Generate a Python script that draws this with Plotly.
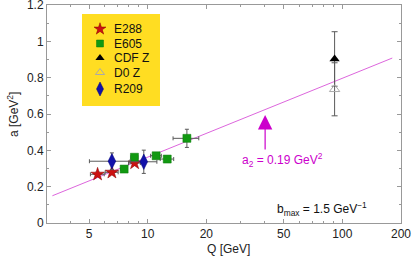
import numpy as np
import plotly.graph_objects as go

# ---- data ----
e288_q = [5.53, 6.55, 8.57]
e288_a = [0.268, 0.279, 0.330]
e288_qerr = [0.45, 0.5, 0.6]
e288_aerr = [0.012, 0.012, 0.012]

e605_q = [7.57, 8.55, 11.05, 12.6, 15.9]
e605_a = [0.297, 0.362, 0.370, 0.352, 0.466]
e605_qerr = [0.3, 0.35, 0.7, 1.0, 2.4]
e605_aerr = [0.012, 0.015, 0.015, 0.012, 0.05]

cdf_q = [91.2]
cdf_a = [0.903]
cdf_aerr = [0.15]

d0_q = [91.2]
d0_a = [0.736]
d0_aerr = [0.146]

r209_q = [6.55, 9.55]
r209_a = [0.340, 0.337]
r209_qerr_minus = [1.53, 1.42]
r209_qerr_plus = [1.58, 1.6]
r209_aerr = [0.046, 0.064]

fit_q = [3.24, 180.4]
fit_a = [0.150, 0.908]

x_tickvals = [5, 10, 20, 50, 100, 200]
x_ticktext = ["5", "10", "20", "50", "100", "200"]
x_minor = [3, 4, 6, 7, 8, 9, 30, 40, 60, 70, 80, 90]
y_tickvals = [0, 0.2, 0.4, 0.6, 0.8, 1.0, 1.2]
y_ticktext = ["0", "0.2", "0.4", "0.6", "0.8", "1", "1.2"]

legend_names = ["E288", "E605", "CDF Z", "D0 Z", "R209"]

FONT = "Liberation Sans, Arial, sans-serif"
ERRC = "#5a5a5a"
W, H = 415, 257
L, R, T, B = 47, 401, 5, 223  # plot area in pixels


def px(x):
    return (x - L) / (R - L)


def py(y):
    return (B - y) / (B - T)


styles = {
    "E288": dict(symbol="star", size=10, color="#cc1111", line=dict(color="#880000", width=0.5)),
    "E605": dict(symbol="square", size=8, color="#119911", line=dict(color="#0a7a0a", width=0.5)),
    "CDF Z": dict(symbol="triangle-up", size=9, color="black"),
    "D0 Z": dict(symbol="triangle-up-open", size=9, color="#aaaaaa", line=dict(width=1)),
    "R209": dict(symbol="diamond-tall", size=11, color="#1111aa", line=dict(color="#000077", width=0.5)),
}
legend_sizes = {"E288": 9, "E605": 7, "CDF Z": 8, "D0 Z": 8, "R209": 10}

fig = go.Figure()

fig.add_trace(go.Scatter(x=fit_q, y=fit_a, mode="lines",
                         line=dict(color="#dd66dd", width=1), hoverinfo="skip"))

fig.add_trace(go.Scatter(
    x=e288_q, y=e288_a, mode="markers", name="E288", marker=styles["E288"],
    error_x=dict(type="data", array=e288_qerr, color=ERRC, width=2, thickness=1),
    error_y=dict(type="data", array=e288_aerr, color=ERRC, width=2, thickness=1)))

fig.add_trace(go.Scatter(
    x=e605_q, y=e605_a, mode="markers", name="E605", marker=styles["E605"],
    error_x=dict(type="data", array=e605_qerr, color=ERRC, width=2, thickness=1),
    error_y=dict(type="data", array=e605_aerr, color=ERRC, width=2, thickness=1)))

fig.add_trace(go.Scatter(
    x=cdf_q, y=cdf_a, mode="markers", name="CDF Z", marker=styles["CDF Z"],
    error_y=dict(type="data", array=cdf_aerr, color=ERRC, width=3, thickness=1)))

fig.add_trace(go.Scatter(
    x=d0_q, y=d0_a, mode="markers", name="D0 Z", marker=styles["D0 Z"],
    error_y=dict(type="data", array=d0_aerr, color=ERRC, width=3, thickness=1)))

fig.add_trace(go.Scatter(
    x=r209_q, y=r209_a, mode="markers", name="R209", marker=styles["R209"],
    error_x=dict(type="data", symmetric=False, array=r209_qerr_plus,
                 arrayminus=r209_qerr_minus, color=ERRC, width=2, thickness=1),
    error_y=dict(type="data", array=r209_aerr, color=ERRC, width=2, thickness=1)))

# manual legend (box, markers on an overlay axis, text)
leg_y_px = [29, 43.5, 58, 72.5, 89]
fig.add_shape(type="rect", xref="paper", yref="paper",
              x0=px(82), x1=px(160), y0=py(106), y1=py(14),
              fillcolor="#ffdd22", line=dict(width=0), layer="below")
for name, ypx in zip(legend_names, leg_y_px):
    st = dict(styles[name])
    st["size"] = legend_sizes[name]
    fig.add_trace(go.Scatter(x=[px(100)], y=[py(ypx)], xaxis="x2", yaxis="y2",
                             mode="markers", marker=st, hoverinfo="skip"))
    fig.add_annotation(xref="paper", yref="paper", x=px(112), y=py(ypx),
                       xanchor="left", yanchor="middle", showarrow=False,
                       text=name, font=dict(family=FONT, size=12, color="#111111"))

axis_common = dict(showline=True, linecolor="#999999", linewidth=1, mirror="ticks",
                   ticks="inside", ticklen=4, tickcolor="#999999", showgrid=False,
                   zeroline=False, automargin=False, ticklabeloverflow="allow",
                   tickfont=dict(family=FONT, size=12, color="#222222"))

fig.update_layout(
    xaxis=dict(type="log", range=[np.log10(3.04), np.log10(200)],
               tickvals=x_tickvals, ticktext=x_ticktext,
               minor=dict(tickvals=x_minor, ticks="inside", ticklen=2, tickcolor="#999999"),
               **axis_common),
    yaxis=dict(range=[0, 1.2], tickvals=y_tickvals, ticktext=y_ticktext,
               minor=dict(dtick=0.1, ticks="inside", ticklen=2, tickcolor="#999999"),
               **axis_common),
    xaxis2=dict(overlaying="x", range=[0, 1], visible=False, automargin=False),
    yaxis2=dict(overlaying="y", range=[0, 1], visible=False, automargin=False),
    showlegend=False,
)

fig.add_annotation(x=np.log10(40.1), y=0.594, xref="x", yref="y", text="",
                   showarrow=True, ax=0, ay=36, arrowhead=2, arrowsize=2.4,
                   arrowwidth=1.2, arrowcolor="#cc00cc")
fig.add_annotation(x=np.log10(49), y=0.345, xref="x", yref="y",
                   text="a<sub>2</sub> = 0.19 GeV<sup>2</sup>", showarrow=False,
                   font=dict(family=FONT, size=12, color="#cc00cc"))
fig.add_annotation(x=np.log10(78.6), y=0.078, xref="x", yref="y",
                   text="b<sub>max</sub> = 1.5 GeV<sup>−1</sup>", showarrow=False,
                   font=dict(family=FONT, size=12, color="#111111"))

# axis titles
fig.add_annotation(xref="paper", yref="paper", x=px(228), y=py(249),
                   text="Q [GeV]", showarrow=False, xanchor="center", yanchor="middle",
                   font=dict(family=FONT, size=12, color="#222222"))
fig.add_annotation(xref="paper", yref="paper", x=px(13), y=py(115),
                   text="a [GeV<sup>2</sup>]", showarrow=False, textangle=-90,
                   xanchor="center", yanchor="middle",
                   font=dict(family=FONT, size=12, color="#222222"))

fig.update_layout(
    width=W, height=H,
    margin=dict(l=L, r=W - R, t=T, b=H - B, autoexpand=False),
    paper_bgcolor="white", plot_bgcolor="white",
    font=dict(family=FONT, size=12, color="#222222"),
)

fig.write_html("out.html", config={"displayModeBar": False},
               post_script="document.body.style.margin='0';document.body.style.overflow='hidden';")
